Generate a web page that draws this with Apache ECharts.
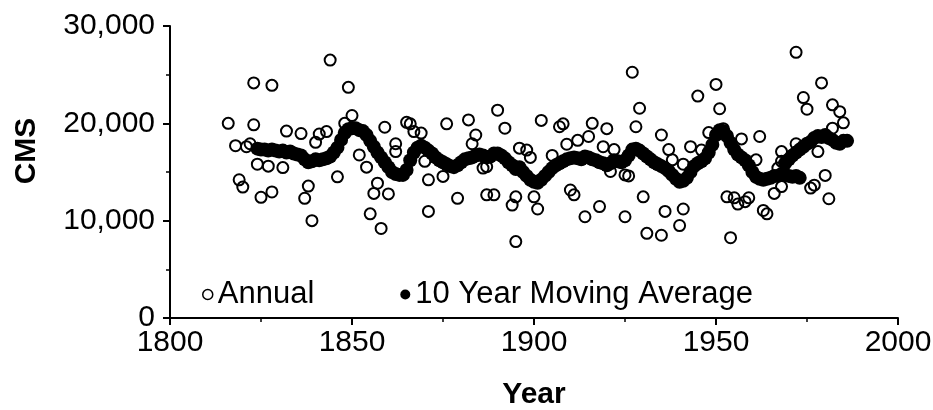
<!DOCTYPE html>
<html>
<head>
<meta charset="utf-8">
<script src="https://cdn.jsdelivr.net/npm/echarts@6/dist/echarts.min.js"></script>
<style>html,body{margin:0;padding:0;background:#fff}#c{width:933px;height:410px}</style>
</head>
<body>
<div id="c"></div>
<script>
var xTicks = [1800, 1850, 1900, 1950, 2000];
var yTicks = [0, 10000, 20000, 30000];

var annualYears = [1816,1818,1819,1820,1821,1822,1823,1823,1824,1825,1827,1828,1828,1831,1832,1836,1837,1838,1839,1840,1841,1843,1844,1846,1848,1849,1850,1852,1854,1855,1856,1857,1858,1859,1860,1862,1862,1865,1866,1867,1869,1870,1871,1871,1875,1876,1879,1882,1883,1884,1886,1887,1887,1889,1890,1892,1894,1895,1895,1896,1898,1899,1900,1901,1902,1905,1907,1908,1909,1910,1911,1912,1914,1915,1916,1918,1919,1920,1921,1922,1925,1925,1926,1927,1928,1929,1930,1931,1935,1935,1936,1937,1938,1940,1941,1941,1943,1945,1946,1948,1950,1951,1952,1953,1954,1955,1956,1957,1958,1959,1961,1962,1963,1964,1966,1967,1968,1968,1968,1972,1972,1974,1975,1976,1977,1978,1979,1980,1981,1982,1982,1984,1985];
var annualValues = [20000,17700,14200,13450,17600,17900,24150,19850,15800,12400,15600,23900,12950,15450,19200,18950,12300,13550,10000,18050,18900,19150,26500,14500,20000,23700,20800,16750,15500,10700,12800,13850,9200,19600,12750,17900,17100,20100,19950,19150,19000,16100,14200,10950,14550,19950,12300,20350,17900,18800,15400,12650,15550,12650,21350,19500,11600,7850,12450,17450,17250,16500,12450,11200,20300,16700,19650,19950,17850,13150,12650,18250,10400,18650,20000,11450,17600,19450,15050,17300,14700,10400,14600,25250,19650,21550,12450,8700,18800,8500,10950,17300,16250,9500,11200,15800,17600,22800,17250,19050,24000,21500,19450,12450,8250,12350,11700,18400,11950,12350,16250,18650,11050,10700,12800,15400,16100,13500,17100,17900,27300,22650,21450,13350,13650,17100,24150,14650,12250,19500,21900,21200,20050];

var maYears = [1824,1825,1826,1827,1828,1829,1830,1831,1832,1833,1834,1835,1836,1837,1838,1839,1840,1841,1842,1843,1844,1845,1846,1847,1848,1849,1850,1851,1852,1853,1854,1855,1856,1857,1858,1859,1860,1861,1862,1863,1864,1865,1866,1867,1868,1869,1870,1871,1872,1873,1874,1875,1876,1877,1878,1879,1880,1881,1882,1883,1884,1885,1886,1887,1888,1889,1890,1891,1892,1893,1894,1895,1896,1897,1898,1899,1900,1901,1902,1903,1904,1905,1906,1907,1908,1909,1910,1911,1912,1913,1914,1915,1916,1917,1918,1919,1920,1921,1922,1923,1924,1925,1926,1927,1928,1929,1930,1931,1932,1933,1934,1935,1936,1937,1938,1939,1940,1941,1942,1943,1944,1945,1946,1947,1948,1949,1950,1951,1952,1953,1954,1955,1956,1957,1958,1959,1960,1961,1962,1963,1964,1965,1966,1967,1968,1969,1970,1971,1972,1973,1969,1970,1971,1972,1973,1974,1975,1976,1977,1978,1979,1980,1981,1982,1983,1984,1985,1986];
var maValues = [17400,17300,17300,17200,17300,17200,17100,17200,17000,17100,16900,16800,16700,16300,16000,16100,16300,16200,16300,16400,16600,17000,17500,18300,19000,19400,19500,19500,19300,19200,18800,18200,17600,17000,16500,16000,15500,15000,14800,14700,14700,15200,16200,17000,17500,17700,17500,17200,16900,16500,16200,16000,15800,15600,15500,15700,16000,16300,16400,16500,16700,16800,16700,16500,16600,16900,16900,16700,16400,16000,15700,15300,15500,15000,14600,14200,14000,13900,14200,14600,15000,15400,15700,15900,16100,16300,16400,16500,16400,16300,16600,16500,16300,16200,16000,15900,15700,15900,16200,16100,16000,16200,16700,17300,17400,17200,16900,16600,16300,16000,15800,15600,15400,15100,14700,14300,14000,14100,14400,15000,15600,15900,16100,16400,17000,17800,18800,19300,19200,18700,18000,17300,16800,16500,16200,15700,15000,14500,14300,14200,14300,14400,14600,14600,14800,14700,14600,14500,14600,14400,15900,16300,16700,17000,17300,17600,17900,18100,18500,18700,18600,18800,18500,18300,18000,17900,18200,18200];

function pairs(xs, ys) { return xs.map(function (x, i) { return [x, ys[i]]; }); }

var FONT = '"Liberation Sans", Arial, sans-serif';
var chart = echarts.init(document.getElementById('c'));
chart.setOption({
  animation: false,
  backgroundColor: '#fff',
  textStyle: { fontFamily: FONT, color: '#000' },
  grid: { left: 170, right: 35, top: 26, bottom: 92, containLabel: false, outerBoundsMode: 'none' },
  legend: {
    left: 197, top: 274,
    itemWidth: 10, itemHeight: 10, itemGap: 86,
    textStyle: { fontSize: 31, color: '#000', fontFamily: FONT },
    data: [
      { name: 'Annual', icon: 'circle', itemStyle: { color: '#fff', borderColor: '#000', borderWidth: 1.5 } },
      { name: '10 Year Moving Average', icon: 'circle', itemStyle: { color: '#000' } }
    ]
  },
  xAxis: {
    type: 'value', min: xTicks[0], max: xTicks[xTicks.length - 1], interval: 50,
    name: 'Year', nameLocation: 'middle', nameGap: 62,
    nameTextStyle: { fontSize: 30, fontWeight: 'bold', color: '#000', fontFamily: FONT },
    axisLine: { lineStyle: { color: '#000', width: 2 } },
    axisTick: { length: 7, lineStyle: { color: '#000', width: 2 } },
    minorTick: { show: true, splitNumber: 2, length: 4, lineStyle: { color: '#000', width: 1.5 } },
    splitLine: { show: false },
    axisLabel: { fontSize: 30, color: '#000', margin: 10, fontFamily: FONT, formatter: function (v) { return String(v); } }
  },
  yAxis: {
    type: 'value', min: yTicks[0], max: yTicks[yTicks.length - 1], interval: 10000,
    name: 'CMS', nameLocation: 'middle', nameGap: 128, nameRotate: 90,
    nameTextStyle: { fontSize: 30, fontWeight: 'bold', color: '#000', fontFamily: FONT, padding: [0, 0, 0, 42] },
    axisLine: { show: true, lineStyle: { color: '#000', width: 2 } },
    axisTick: { show: true, length: 7, lineStyle: { color: '#000', width: 2 } },
    minorTick: { show: true, splitNumber: 2, length: 4, lineStyle: { color: '#000', width: 1.5 } },
    splitLine: { show: false },
    axisLabel: { fontSize: 30, color: '#000', margin: 15, fontFamily: FONT,
      formatter: function (v) { return v.toLocaleString('en-US'); } }
  },
  series: [
    {
      name: 'Annual', type: 'scatter', data: pairs(annualYears, annualValues),
      symbol: 'circle', symbolSize: 11,
      itemStyle: { color: 'rgba(255,255,255,0)', borderColor: '#000', borderWidth: 2, opacity: 1 },
      z: 2
    },
    {
      name: '10 Year Moving Average', type: 'scatter', data: pairs(maYears, maValues),
      symbol: 'circle', symbolSize: 14,
      itemStyle: { color: '#000', opacity: 1 },
      z: 3
    }
  ]
});
</script>
</body>
</html>
